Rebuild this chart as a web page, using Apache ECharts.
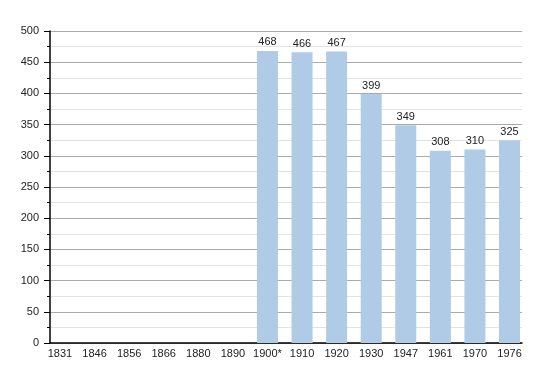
<!DOCTYPE html>
<html><head><meta charset="utf-8">
<script src="https://cdn.jsdelivr.net/npm/echarts@6/dist/echarts.min.js"></script>
<style>html,body{margin:0;padding:0;background:#fff}#c{width:550px;height:373px}</style>
</head><body><div id="c"></div>
<script>
const categories = ['1831','1846','1856','1866','1880','1890','1900*','1910','1920','1930','1947','1961','1970','1976'];
const population = [null,null,null,null,null,null,468,466,467,399,349,308,310,325];
const yTicks = [0,50,100,150,200,250,300,350,400,450,500];

const font = 'Liberation Sans, Arial, sans-serif';
const chart = echarts.init(document.getElementById('c'), null, {renderer:'canvas'});
chart.setOption({
  animation:false,
  grid:[
    {left:50,right:28,top:31,bottom:30},
    {left:42.7,right:23.2,top:31,bottom:30}
  ],
  xAxis:[
    {gridIndex:0,type:'category',data:categories,
     axisLine:{lineStyle:{color:'#000',width:1.5}},axisTick:{show:false},axisLabel:{show:false},splitLine:{show:false}},
    {gridIndex:1,type:'category',data:categories,
     axisLine:{show:false},axisTick:{show:false},
     axisLabel:{color:'#222',fontFamily:font,fontSize:11,margin:5,interval:0}}
  ],
  yAxis:[
    {gridIndex:0,type:'value',min:0,max:500,interval:50,
     axisLine:{show:true,lineStyle:{color:'#000',width:1.5}},
     axisTick:{show:true,length:6,lineStyle:{color:'#000'}},
     minorTick:{show:true,splitNumber:2,length:3,lineStyle:{color:'#000'}},
     splitLine:{lineStyle:{color:'#aaa',width:1}},
     minorSplitLine:{show:true,lineStyle:{color:'#e2e2e2',width:1}},
     axisLabel:{color:'#222',fontFamily:font,fontSize:11,margin:11,
       formatter:v=>yTicks.includes(v)?String(v):''}},
    {gridIndex:1,type:'value',min:0,max:500,interval:50,show:false,splitLine:{show:false}}
  ],
  series:[{
    type:'bar',xAxisIndex:1,yAxisIndex:1,data:population,barWidth:21,
    itemStyle:{color:'#b0cbe6'},
    label:{show:true,position:'top',distance:3,color:'#222',fontFamily:font,fontSize:11,
      formatter:p=>p.value==null?'':String(p.value)}
  }]
});
</script></body></html>
